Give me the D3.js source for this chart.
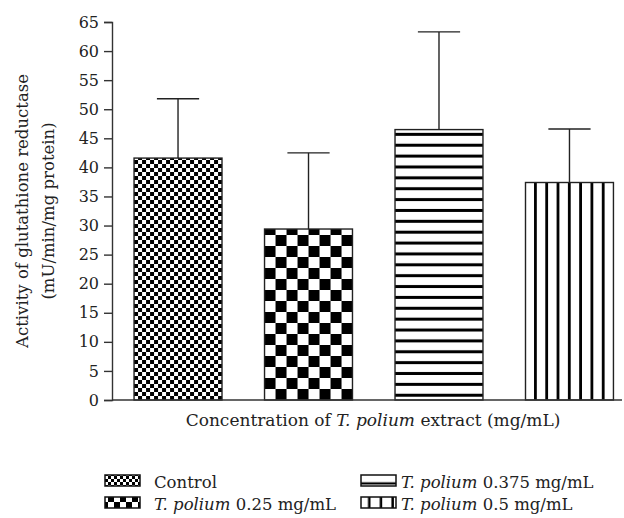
<!DOCTYPE html>
<html>
<head>
<meta charset="utf-8">
<script src="https://cdn.jsdelivr.net/npm/d3@7"></script>
<style>
  body { margin: 0; background: #fff; }
</style>
</head>
<body>
<div id="chart"></div>
<script>
/* Data */
var groups = ["Control", "T. polium 0.25", "T. polium 0.375", "T. polium 0.5"];
var means = [41.6, 29.4, 46.5, 37.4];
var errors = [10.2, 13.1, 16.8, 9.2];   // upper SD bar length
var patterns = ["smallCheck", "bigCheck", "hStripe", "vStripe"];
var yTicks = [0, 5, 10, 15, 20, 25, 30, 35, 40, 45, 50, 55, 60, 65];

var legendItems = [
    {pat: "legSmallCheck", italic: "", rest: "Control"},
    {pat: "legBigCheck", italic: "T. polium", rest: " 0.25 mg/mL"},
    {pat: "legHStripe", italic: "T. polium", rest: " 0.375 mg/mL"},
    {pat: "legVStripe", italic: "T. polium", rest: " 0.5 mg/mL"}
];

var FONT = "'DejaVu Serif', serif";
var width = 624, height = 518;
var axisX = 112, baseY = 400, topY = 22;

var svg = d3.select("#chart").append("svg")
    .attr("width", width)
    .attr("height", height);

var y = d3.scaleLinear().domain([0, 65]).range([baseY, topY]);
var x = d3.scaleBand().domain(groups)
    .range([axisX, 635.5])
    .paddingInner(0.326)
    .paddingOuter(0.169);

/*
 * build the fill patterns
 */
var defs = svg.append("defs");

function checker(id, cell, ox, oy) {
    var p = defs.append("pattern")
        .attr("id", id)
        .attr("patternUnits", "userSpaceOnUse")
        .attr("x", ox).attr("y", oy)
        .attr("width", cell * 2).attr("height", cell * 2);
    p.append("rect").attr("width", cell * 2).attr("height", cell * 2).attr("fill", "#fff");
    p.append("rect").attr("width", cell).attr("height", cell).attr("fill", "#000");
    p.append("rect").attr("x", cell).attr("y", cell).attr("width", cell).attr("height", cell).attr("fill", "#000");
}

function stripes(id, period, thick, horizontal, ox, oy) {
    var p = defs.append("pattern")
        .attr("id", id)
        .attr("patternUnits", "userSpaceOnUse")
        .attr("x", ox).attr("y", oy)
        .attr("width", horizontal ? 10 : period)
        .attr("height", horizontal ? period : 10);
    p.append("rect").attr("width", horizontal ? 10 : period).attr("height", horizontal ? period : 10).attr("fill", "#fff");
    p.append("rect")
        .attr("x", horizontal ? 0 : period - thick)
        .attr("y", horizontal ? period - thick : 0)
        .attr("width", horizontal ? 10 : thick)
        .attr("height", horizontal ? thick : 10)
        .attr("fill", "#000");
}

checker("smallCheck", 4, x(groups[0]), baseY);
checker("bigCheck", 11, x(groups[1]), baseY);
stripes("hStripe", 10.87, 3, true, 0, baseY - 10.87 * 0.3);
stripes("vStripe", 11.3, 2.8, false, x(groups[3]), 0);

/* y axis */
var yAxis = d3.axisLeft(y).tickValues(yTicks).tickSize(8).tickPadding(5);
var gy = svg.append("g")
    .attr("transform", "translate(" + axisX + ",0)")
    .call(yAxis);
gy.attr("font-family", null).attr("font-size", null);
gy.select(".domain").attr("stroke", "#333").attr("stroke-width", 1.4);
gy.selectAll(".tick line").attr("stroke", "#333").attr("stroke-width", 1.4);
gy.selectAll(".tick text")
    .style("font-family", FONT)
    .style("font-size", "16px")
    .attr("fill", "#222");

/* bars */
var bars = svg.selectAll(".bar")
    .data(groups)
    .enter()
    .append("g")
    .attr("class", "bar");

bars.append("line")
    .attr("x1", function(d) { return x(d) + x.bandwidth() / 2; })
    .attr("x2", function(d) { return x(d) + x.bandwidth() / 2; })
    .attr("y1", function(d, i) { return y(means[i]); })
    .attr("y2", function(d, i) { return y(means[i] + errors[i]); })
    .attr("stroke", "#222").attr("stroke-width", 1.4);

bars.append("line")
    .attr("x1", function(d) { return x(d) + x.bandwidth() * 0.26; })
    .attr("x2", function(d) { return x(d) + x.bandwidth() * 0.74; })
    .attr("y1", function(d, i) { return y(means[i] + errors[i]); })
    .attr("y2", function(d, i) { return y(means[i] + errors[i]); })
    .attr("stroke", "#222").attr("stroke-width", 1.4);

bars.append("rect")
    .attr("x", function(d) { return x(d); })
    .attr("y", function(d, i) { return y(means[i]); })
    .attr("width", x.bandwidth())
    .attr("height", function(d, i) { return baseY - y(means[i]); })
    .attr("fill", function(d, i) { return "url(#" + patterns[i] + ")"; })
    .attr("stroke", "#222")
    .attr("stroke-width", 1.4);

/* x axis baseline */
svg.append("line")
    .attr("x1", axisX).attr("x2", 622)
    .attr("y1", baseY).attr("y2", baseY)
    .attr("stroke", "#333").attr("stroke-width", 1.4);

/* axis titles */
var xt = svg.append("text")
    .attr("x", 373).attr("y", 426)
    .attr("text-anchor", "middle")
    .style("font-family", FONT)
    .style("font-size", "17px")
    .attr("fill", "#222");
xt.append("tspan").text("Concentration of ");
xt.append("tspan").style("font-style", "italic").text("T. polium");
xt.append("tspan").text(" extract (mg/mL)");

svg.append("text")
    .attr("transform", "translate(28,211) rotate(-90)")
    .attr("text-anchor", "middle")
    .style("font-family", FONT)
    .style("font-size", "16.5px")
    .attr("fill", "#222")
    .text("Activity of glutathione reductase");
svg.append("text")
    .attr("transform", "translate(54,211) rotate(-90)")
    .attr("text-anchor", "middle")
    .style("font-family", FONT)
    .style("font-size", "16.5px")
    .attr("fill", "#222")
    .text("(mU/min/mg protein)");

/* legend */
var legX = [105, 361], legY = [475, 497];
checker("legSmallCheck", 3, legX[0], legY[0]);
checker("legBigCheck", 6, legX[0], legY[1]);
stripes("legHStripe", 11, 2.2, true, 0, legY[0] - 3.5);
stripes("legVStripe", 11.7, 2.5, false, legX[1] - 0.5, 0);

var leg = svg.selectAll(".legend")
    .data(legendItems)
    .enter()
    .append("g")
    .attr("class", "legend")
    .attr("transform", function(d, i) {
        return "translate(" + legX[i < 2 ? 0 : 1] + "," + legY[i % 2] + ")";
    });

leg.append("rect")
    .attr("width", 35).attr("height", 11)
    .attr("fill", function(d) { return "url(#" + d.pat + ")"; })
    .attr("stroke", "#111").attr("stroke-width", 1.5);

var lt = leg.append("text")
    .attr("x", function(d, i) { return i < 2 ? 49 : 40; })
    .attr("y", 13)
    .style("font-family", FONT)
    .style("font-size", "16.5px")
    .attr("fill", "#222");
lt.append("tspan").style("font-style", "italic").text(function(d) { return d.italic; });
lt.append("tspan").text(function(d) { return d.rest; });
</script>
</body>
</html>
